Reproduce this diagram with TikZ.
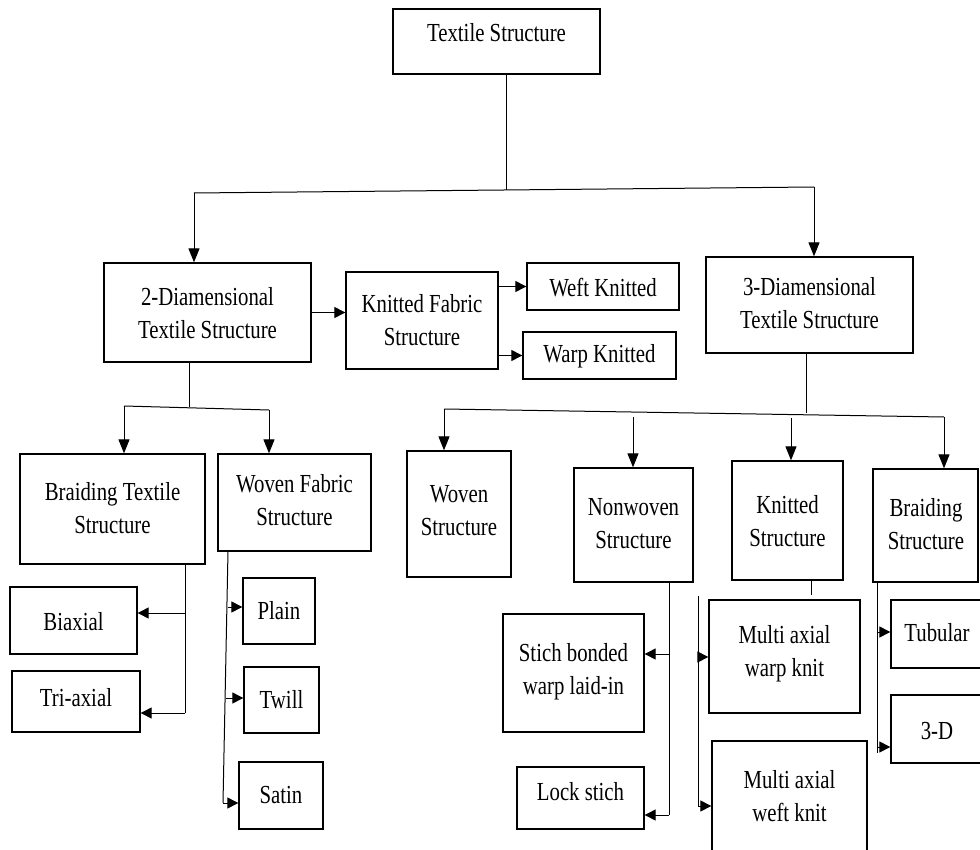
\documentclass[tikz,border=0pt]{standalone}
\usepackage{fontspec}
\setmainfont[FakeStretch=0.8]{Liberation Serif}
\usetikzlibrary{arrows.meta}
\begin{document}
\begin{tikzpicture}[x=1pt,y=-1pt,
  box/.style={draw=black, line width=1.3pt, rectangle, inner sep=0pt},
  txt/.style={font=\fontsize{26}{33}\selectfont, align=center, inner sep=0pt, text=black},
  conn/.style={draw=black, line width=1pt},
  darr/.style={conn, -{Triangle[length=14pt,width=11pt]}},
  sarr/.style={conn, -{Triangle[length=11pt,width=11pt]}}]
\useasboundingbox (0,0) rectangle (980,850);
\fill[white] (0,0) rectangle (980,850);
\clip (0,0) rectangle (980,850);

% ---------- boxes ----------
\node[box, minimum width=207pt, minimum height=65pt]  (ts)    at (496.5,41.5) {};
\node[box, minimum width=207pt, minimum height=99pt]  (d2)    at (207.5,312.5) {};
\node[box, minimum width=152pt, minimum height=97pt]  (kfs)   at (422,320.5) {};
\node[box, minimum width=152pt, minimum height=47pt]  (weft)  at (603,286.5) {};
\node[box, minimum width=153pt, minimum height=47pt]  (warp)  at (599.5,355.5) {};
\node[box, minimum width=207pt, minimum height=96pt]  (d3)    at (809.5,305) {};
\node[box, minimum width=185pt, minimum height=110pt] (bts)   at (112.5,509) {};
\node[box, minimum width=153pt, minimum height=97pt]  (wfs)   at (294.5,502.5) {};
\node[box, minimum width=127pt, minimum height=67pt]  (biax)  at (73.5,620.5) {};
\node[box, minimum width=128pt, minimum height=61pt]  (triax) at (76,701.5) {};
\node[box, minimum width=72pt,  minimum height=66pt]  (plain) at (279,611) {};
\node[box, minimum width=75pt,  minimum height=66pt]  (twill) at (281.5,700) {};
\node[box, minimum width=84pt,  minimum height=67pt]  (satin) at (281,795.5) {};
\node[box, minimum width=104pt, minimum height=126pt] (wov)   at (459,514) {};
\node[box, minimum width=119pt, minimum height=114pt] (nonw)  at (633.5,525) {};
\node[box, minimum width=111pt, minimum height=119pt] (kn)    at (787.5,520.5) {};
\node[box, minimum width=105pt, minimum height=113pt] (br)    at (925.5,525.5) {};
\node[box, minimum width=141pt, minimum height=118pt] (stich) at (573.5,673) {};
\node[box, minimum width=127pt, minimum height=62pt]  (lock)  at (580.5,798) {};
\node[box, minimum width=151pt, minimum height=113pt] (mwarp) at (784.5,656.5) {};
\node[box, minimum width=155pt, minimum height=129pt] (mweft) at (789.5,805.5) {};
\node[box, minimum width=99pt,  minimum height=68pt]  (tub)   at (940.5,634) {};
\node[box, minimum width=99pt,  minimum height=68pt]  (td)    at (940.5,729) {};

% ---------- texts ----------
\node[txt] (tsT)    at (496.5,33)  {Textile Structure};
\node[txt] (d2T)    at (207.5,313) {2-Diamensional\\Textile Structure};
\node[txt] (kfsT)   at (422,320)   {Knitted Fabric\\Structure};
\node[txt] (weftT)  at (603,288)   {Weft Knitted};
\node[txt] (warpT)  at (599.5,356) {Warp Knitted};
\node[txt] (d3T)    at (809.5,303) {3-Diamensional\\Textile Structure};
\node[txt] (btsT)   at (112.5,508) {Braiding Textile\\Structure};
\node[txt] (wfsT)   at (294.5,500) {Woven Fabric\\Structure};
\node[txt] (biaxT)  at (73.5,622)  {Biaxial};
\node[txt] (triaxT) at (76,698)    {Tri-axial};
\node[txt] (plainT) at (279,611)   {Plain};
\node[txt] (twillT) at (281.5,700) {Twill};
\node[txt] (satinT) at (281,795)   {Satin};
\node[txt] (wovT)   at (459,511)   {Woven\\Structure};
\node[txt] (nonwT)  at (633.5,524) {Nonwoven\\Structure};
\node[txt] (knT)    at (787.5,521) {Knitted\\Structure};
\node[txt] (brT)    at (926,524)   {Braiding\\Structure};
\node[txt] (stichT) at (573.5,672) {Stich bonded\\warp laid-in};
\node[txt] (lockT)  at (580.5,792) {Lock stich};
\node[txt] (mwarpT) at (784.5,654) {Multi axial\\warp knit};
\node[txt] (mweftT) at (789.5,796) {Multi axial\\weft knit};
\node[txt] (tubT)   at (937,633)   {Tubular};
\node[txt] (tdT)    at (937,731)   {3-D};

% ---------- junction points ----------
\coordinate (tsJ) at (506,190);
\coordinate (L1)  at (194,193);
\coordinate (R1)  at (814,187);
\coordinate (d2J) at (189,407);
\coordinate (L2)  at (124,406);
\coordinate (R2)  at (269,410);
\coordinate (d3J) at (806,413);
\coordinate (L3)  at (444,409);
\coordinate (R3)  at (944,417);
\coordinate (nwS) at (633,417);
\coordinate (knS) at (791,418);
\coordinate (btsE) at (185,713);
\coordinate (wfsE) at (223,803);
\coordinate (nonwE) at (669,815);
\coordinate (mxS) at (698,596);
\coordinate (mxE) at (698,806);
\coordinate (knE) at (811,595);
\coordinate (brE) at (877,753);

% ---------- connectors ----------
% root
\draw[conn] (ts.south -| tsJ) -- (tsJ);
\draw[conn] (L1) -- (R1);
\draw[darr] (L1) -- (L1 |- d2.north);
\draw[darr] (R1) -- (R1 |- d3.north);
% 2D -> knitted fabric
\draw[sarr] (d2.east) -- (d2.east -| kfs.west);
\draw[sarr] (kfs.east |- weft.west) -- (weft.west);
\draw[sarr] (kfs.east |- warp.west) -- (warp.west);
% 2D children
\draw[conn] (d2.south -| d2J) -- (d2J);
\draw[conn] (L2) -- (R2);
\draw[darr] (L2) -- (L2 |- bts.north);
\draw[darr] (R2) -- (R2 |- wfs.north);
% braiding textile
\draw[conn] (bts.south -| btsE) -- (btsE);
\draw[sarr] (185,613) -- (biax.east |- 0,613);
\draw[sarr] (btsE) -- (btsE -| triax.east);
% woven fabric
\draw[conn] (228,551) -- (wfsE);
\draw[sarr] (227.8,607) -- (plain.west |- 0,607);
\draw[sarr] (225.9,698) -- (twill.west |- 0,698);
\draw[sarr] (wfsE) -- (wfsE -| satin.west);
% 3D children
\draw[conn] (d3.south -| d3J) -- (d3J);
\draw[conn] (L3) -- (R3);
\draw[darr] (L3) -- (L3 |- wov.north);
\draw[darr] (nwS) -- (nwS |- nonw.north);
\draw[darr] (knS) -- (knS |- kn.north);
\draw[darr] (R3) -- (R3 |- br.north);
% nonwoven
\draw[conn] (nonw.south -| nonwE) -- (nonwE);
\draw[sarr] (669,654) -- (stich.east |- 0,654);
\draw[sarr] (nonwE) -- (nonwE -| lock.east);
% knitted
\draw[conn] (kn.south -| knE) -- (knE);
\draw[conn] (mxS) -- (mxE);
\draw[sarr] (698,657) -- (mwarp.west |- 0,657);
\draw[sarr] (mxE) -- (mxE -| mweft.west);
% braiding
\draw[conn] (br.south -| brE) -- (brE);
\draw[sarr] (877,632) -- (tub.west |- 0,632);
\draw[sarr] (877,747) -- (td.west |- 0,747);
\end{tikzpicture}
\end{document}
